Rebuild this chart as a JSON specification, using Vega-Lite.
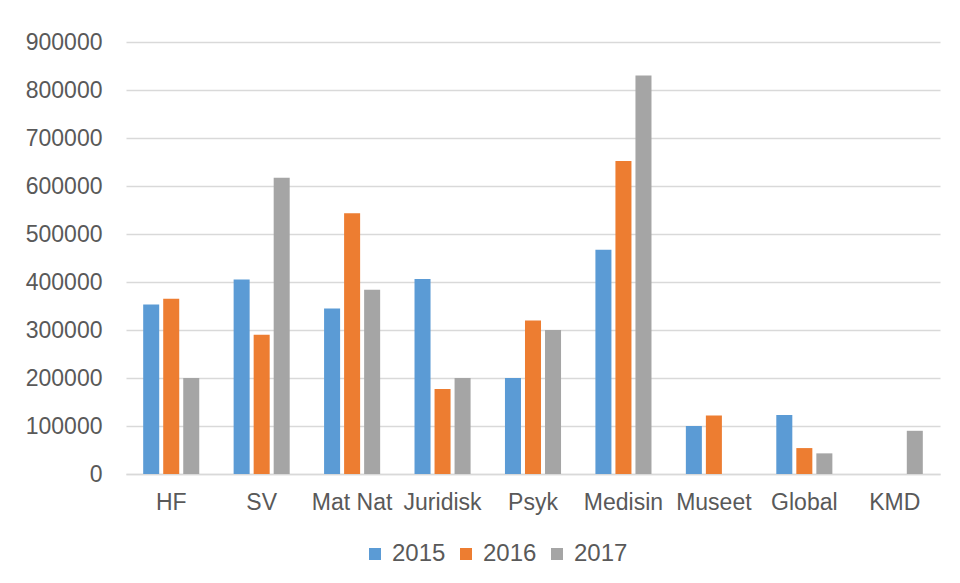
{
  "$schema": "https://vega.github.io/schema/vega-lite/v6.json",
  "width": 814,
  "height": 432,
  "autosize": {"type": "none"},
  "padding": {"left": 126, "top": 42, "right": 20, "bottom": 109},
  "background": "white",
  "data": {
    "values": [
      {"enhet": "HF", "aar": "2015", "verdi": 353000},
      {"enhet": "HF", "aar": "2016", "verdi": 365000},
      {"enhet": "HF", "aar": "2017", "verdi": 200000},
      {"enhet": "SV", "aar": "2015", "verdi": 405000},
      {"enhet": "SV", "aar": "2016", "verdi": 290000},
      {"enhet": "SV", "aar": "2017", "verdi": 617000},
      {"enhet": "Mat Nat", "aar": "2015", "verdi": 345000},
      {"enhet": "Mat Nat", "aar": "2016", "verdi": 543000},
      {"enhet": "Mat Nat", "aar": "2017", "verdi": 384000},
      {"enhet": "Juridisk", "aar": "2015", "verdi": 406000},
      {"enhet": "Juridisk", "aar": "2016", "verdi": 177000},
      {"enhet": "Juridisk", "aar": "2017", "verdi": 200000},
      {"enhet": "Psyk", "aar": "2015", "verdi": 200000},
      {"enhet": "Psyk", "aar": "2016", "verdi": 320000},
      {"enhet": "Psyk", "aar": "2017", "verdi": 300000},
      {"enhet": "Medisin", "aar": "2015", "verdi": 467000},
      {"enhet": "Medisin", "aar": "2016", "verdi": 652000},
      {"enhet": "Medisin", "aar": "2017", "verdi": 830000},
      {"enhet": "Museet", "aar": "2015", "verdi": 100000},
      {"enhet": "Museet", "aar": "2016", "verdi": 122000},
      {"enhet": "Museet", "aar": "2017", "verdi": 0},
      {"enhet": "Global", "aar": "2015", "verdi": 123000},
      {"enhet": "Global", "aar": "2016", "verdi": 54000},
      {"enhet": "Global", "aar": "2017", "verdi": 43000},
      {"enhet": "KMD", "aar": "2015", "verdi": 0},
      {"enhet": "KMD", "aar": "2016", "verdi": 0},
      {"enhet": "KMD", "aar": "2017", "verdi": 90000}
    ]
  },
  "mark": {"type": "bar"},
  "encoding": {
    "x": {
      "field": "enhet",
      "type": "nominal",
      "sort": null,
      "title": null,
      "scale": {"paddingInner": 0.38, "paddingOuter": 0.19},
      "axis": {
        "labelAngle": 0,
        "labelFont": "Liberation Sans",
        "labelFontSize": 23,
        "labelColor": "#595959",
        "labelPadding": 17,
        "ticks": false,
        "domainColor": "#d9d9d9",
        "domainWidth": 1.5,
        "grid": false
      }
    },
    "xOffset": {
      "field": "aar",
      "type": "nominal",
      "scale": {"paddingInner": 0.2, "paddingOuter": 0}
    },
    "y": {
      "field": "verdi",
      "type": "quantitative",
      "title": null,
      "scale": {"domain": [0, 900000], "nice": false},
      "axis": {
        "values": [0, 100000, 200000, 300000, 400000, 500000, 600000, 700000, 800000, 900000],
        "format": "d",
        "labelFont": "Liberation Sans",
        "labelFontSize": 23,
        "labelColor": "#595959",
        "labelPadding": 24,
        "ticks": false,
        "domain": false,
        "gridColor": "#d9d9d9",
        "gridWidth": 1.5
      }
    },
    "color": {
      "field": "aar",
      "type": "nominal",
      "title": null,
      "scale": {"domain": ["2015", "2016", "2017"], "range": ["#5B9BD5", "#ED7D31", "#A5A5A5"]},
      "legend": {
        "orient": "none",
        "direction": "horizontal",
        "legendX": 237,
        "legendY": 500,
        "symbolType": "square",
        "symbolSize": 144,
        "symbolStrokeWidth": 0,
        "labelFont": "Liberation Sans",
        "labelFontSize": 24,
        "labelColor": "#595959",
        "labelOffset": 5,
        "columnPadding": 8
      }
    }
  },
  "config": {"view": {"stroke": null}}
}
